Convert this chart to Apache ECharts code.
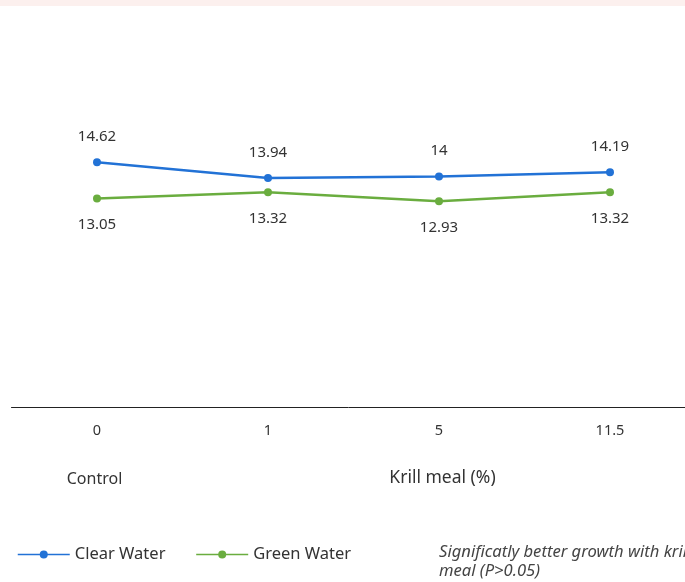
<!DOCTYPE html>
<html>
<head>
<meta charset="utf-8">
<script src="https://cdn.jsdelivr.net/npm/echarts@6/dist/echarts.min.js"></script>
<style>
html,body{margin:0;padding:0;background:#fff;}
#c{width:685px;height:582px;}
</style>
</head>
<body>
<div id="c"></div>
<script>
var categories = ['0', '1', '5', '11.5'];
var clearWater = [14.62, 13.94, 14, 14.19];
var greenWater = [13.05, 13.32, 12.93, 13.32];
var seriesNames = ['Clear Water', 'Green Water'];

var FONT = '"Noto Sans", sans-serif';
var chart = echarts.init(document.getElementById('c'));
chart.setOption({
  animation: false,
  backgroundColor: '#fff',
  grid: { left: 11.5, width: 684, top: 38, bottom: 174.5, containLabel: false, outerBoundsMode: 'none' },
  xAxis: {
    type: 'category',
    data: categories,
    boundaryGap: true,
    axisLine: { show: true, lineStyle: { color: '#222', width: 1 } },
    axisTick: { show: false },
    axisLabel: { color: '#333', fontSize: 14.5, fontFamily: FONT, margin: 16 },
    splitLine: { show: false }
  },
  yAxis: {
    type: 'value', min: 4, max: 20, show: false, splitLine: { show: false }
  },
  legend: {
    left: 17, top: 546, padding: 0,
    itemWidth: 52, itemHeight: 10, itemGap: 30,
    lineStyle: { width: 1.5 },
    textStyle: { color: '#333', fontSize: 16.5, fontFamily: FONT },
    data: seriesNames
  },
  series: [
    {
      name: seriesNames[0], type: 'line', data: clearWater,
      symbol: 'circle', symbolSize: 8,
      itemStyle: { color: '#2272d6' },
      lineStyle: { color: '#2272d6', width: 2.5 },
      label: { show: true, position: 'top', distance: 14, color: '#333', fontSize: 15, fontFamily: FONT }
    },
    {
      name: seriesNames[1], type: 'line', data: greenWater,
      symbol: 'circle', symbolSize: 8,
      itemStyle: { color: '#6aad3f' },
      lineStyle: { color: '#6aad3f', width: 2.5 },
      label: { show: true, position: 'bottom', distance: 15, color: '#333', fontSize: 15, fontFamily: FONT }
    }
  ],
  graphic: [
    { type: 'rect', left: 0, top: 0, shape: { width: 685, height: 6 }, style: { fill: '#fcf0ee' } },
    { type: 'text', x: 94.5, y: 479, style: { text: 'Control', fill: '#333', font: '16px "Noto Sans", sans-serif', align: 'center', verticalAlign: 'middle' } },
    { type: 'text', x: 442.5, y: 478.5, style: { text: 'Krill meal (%)', fill: '#333', font: '17.5px "Noto Sans", sans-serif', align: 'center', verticalAlign: 'middle' } },
    { type: 'text', x: 439, y: 543, style: { text: 'Significatly better growth with krill\nmeal (P>0.05)', fill: '#444', font: 'italic 16.6px "Noto Sans", sans-serif', lineHeight: 19, align: 'left', verticalAlign: 'top' } }
  ]
});
</script>
</body>
</html>
